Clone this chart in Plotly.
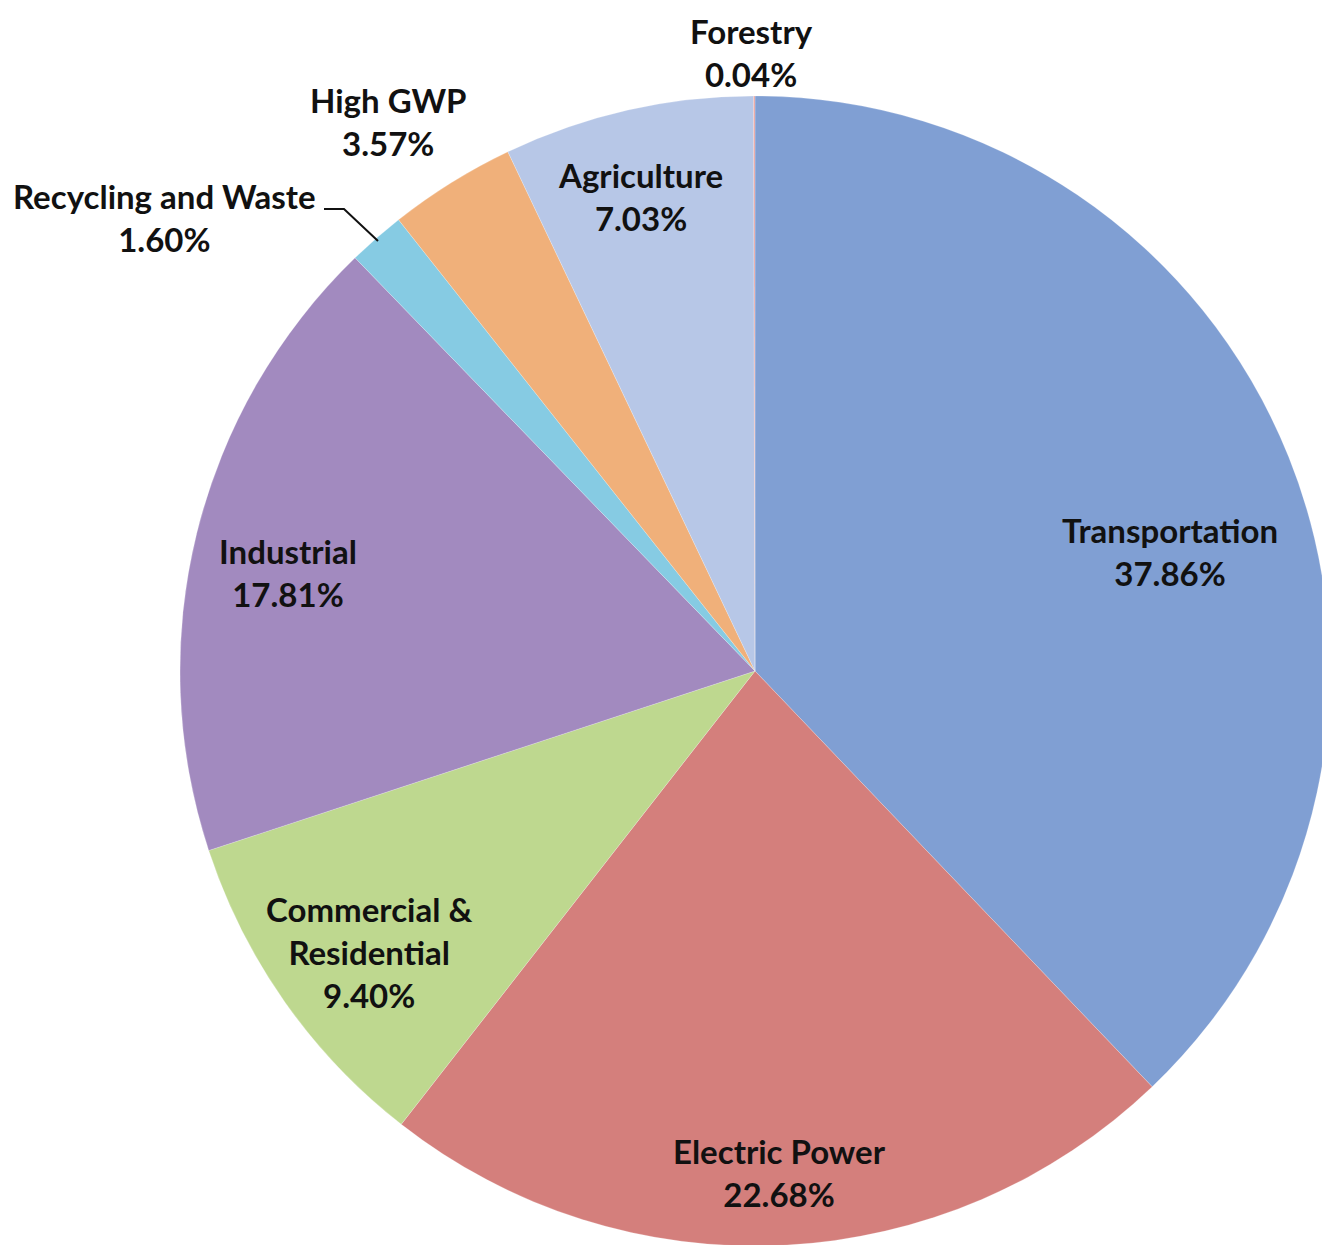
import plotly.graph_objects as go

# ---- data ----
sectors = ["Transportation", "Electric Power", "Commercial &<br>Residential", "Industrial",
           "Recycling and Waste", "High GWP", "Agriculture", "Forestry"]
shares = [37.86, 22.68, 9.40, 17.81, 1.60, 3.57, 7.03, 0.04]
colors = ["#809fd3", "#d47f7c", "#bed88f", "#a28abf", "#86cbe3", "#f0b07a", "#b7c7e7", "#e9a3a0"]

W, H = 1330, 1245
OFF = 8  # page body margin offset

def px2paper(x, y):
    return (x - OFF) / W, 1 - (y - OFF) / H

# pie centre (755, 671) radius 575 in screen pixels
cx, cy, R = 755, 671, 575
x0, y0 = px2paper(cx - R, cy + R)
x1, y1 = px2paper(cx + R, cy - R)

fig = go.Figure(go.Pie(
    labels=sectors,
    values=shares,
    sort=False,
    direction="clockwise",
    rotation=0,
    textinfo="none",
    marker=dict(colors=colors, line=dict(color="rgba(255,255,255,0.35)", width=0.6)),
    domain=dict(x=[x0, x1], y=[y0, y1]),
    showlegend=False,
))

# label positions (screen pixel centres)
label_pos = {
    "Transportation": (1170, 551),
    "Electric Power": (779, 1172),
    "Commercial &<br>Residential": (369, 952),
    "Industrial": (288, 572),
    "Recycling and Waste": (164, 217),
    "High GWP": (388, 122),
    "Agriculture": (640, 196),
    "Forestry": (752, 52),
}

font = dict(family="Lato, 'Open Sans', sans-serif", size=33, color="#111111")
for name, val in zip(sectors, shares):
    ax, ay = px2paper(*label_pos[name])
    fig.add_annotation(
        x=ax, y=ay, xref="paper", yref="paper",
        text="<b>%s<br>%.2f%%</b>" % (name, val),
        showarrow=False, xanchor="center", yanchor="middle",
        align="center", font=font, borderpad=0,
    )

# leader line for Recycling and Waste
pts = [(324, 209), (344, 209), (378, 241)]
path = "M " + " L ".join("%f,%f" % px2paper(x, y) for x, y in pts)
fig.add_shape(type="path", path=path, xref="paper", yref="paper",
              line=dict(color="#111111", width=2))

fig.update_layout(
    width=W, height=H,
    margin=dict(l=0, r=0, t=0, b=0),
    paper_bgcolor="white", plot_bgcolor="white",
)

fig.write_html("out.html")
